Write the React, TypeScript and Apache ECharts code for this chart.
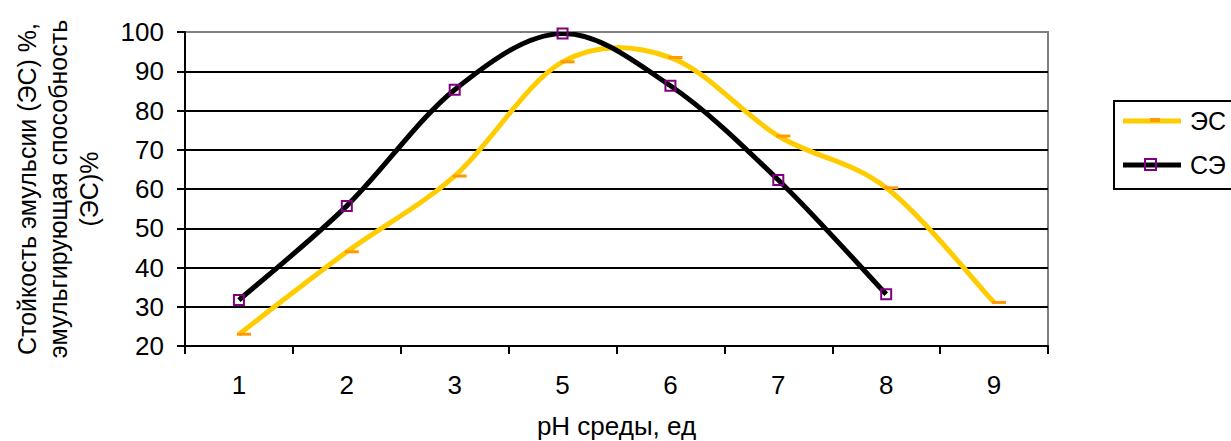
import React, { useEffect, useRef } from "react";
import * as echarts from "echarts";

const categories = ["1", "2", "3", "5", "6", "7", "8", "9"];
const esValues = [23, 44, 63.3, 92.4, 93.5, 73.5, 60.3, 31.1];
const seValues = [31.7, 55.7, 85.3, 99.6, 86.3, 62.3, 33.2, null];
const yTicks = { min: 20, max: 100, interval: 10 };
const seriesNames = ["ЭС", "СЭ"];
const yTitle = "Стойкость эмульсии (ЭС) %,\nэмульгирующая способность\n(ЭС)%";
const xTitle = "pH среды, ед";

const FONT = "'Liberation Sans', Arial, sans-serif";
const FS = 26;

function curveRenderer(values: (number | null)[], color: string, width: number) {
  return (params: any, api: any) => {
    const pts: number[][] = [];
    values.forEach((v, i) => {
      if (v !== null && v !== undefined) pts.push(api.coord([i, v]));
    });
    if (pts.length < 2) return null;
    let d = `M${pts[0][0]},${pts[0][1]}`;
    for (let i = 0; i < pts.length - 1; i++) {
      const p0 = pts[i - 1] || pts[i];
      const p1 = pts[i];
      const p2 = pts[i + 1];
      const p3 = pts[i + 2] || pts[i + 1];
      const c1x = p1[0] + (p2[0] - p0[0]) / 6;
      const c1y = p1[1] + (p2[1] - p0[1]) / 6;
      const c2x = p2[0] - (p3[0] - p1[0]) / 6;
      const c2y = p2[1] - (p3[1] - p1[1]) / 6;
      d += ` C${c1x},${c1y} ${c2x},${c2y} ${p2[0]},${p2[1]}`;
    }
    return {
      type: "path",
      shape: { pathData: d },
      style: { fill: "none", stroke: color, lineWidth: width, lineJoin: "round" },
      silent: true,
    };
  };
}

export default function App() {
  const ref = useRef<HTMLDivElement>(null);
  useEffect(() => {
    if (!ref.current) return;
    const chart = echarts.init(ref.current, null, { renderer: "svg" });
    const gridColors = ["#000", "#000", "#000", "#000", "#000", "#000", "#000", "#000", "#808080"];
    chart.setOption({
      animation: false,
      backgroundColor: "#fff",
      textStyle: { fontFamily: FONT },
      grid: {
        left: 185,
        right: 183,
        top: 32,
        bottom: 95,
        show: true,
        borderColor: "#808080",
        borderWidth: 2,
        backgroundColor: "transparent",
        containLabel: false,
        outerBoundsMode: "none",
      },
      legend: { show: false },
      xAxis: {
        type: "category",
        data: categories,
        boundaryGap: true,
        name: xTitle,
        nameLocation: "middle",
        nameGap: 67,
        nameTextStyle: { fontSize: FS, color: "#000", fontFamily: FONT },
        axisLine: { show: true, lineStyle: { color: "#000", width: 2 } },
        axisTick: { show: true, length: 8, lineStyle: { color: "#000", width: 2 } },
        axisLabel: { fontSize: FS, color: "#000", margin: 26, fontFamily: FONT },
        splitLine: { show: false },
      },
      yAxis: {
        type: "value",
        min: yTicks.min,
        max: yTicks.max,
        interval: yTicks.interval,
        axisLine: { show: true, lineStyle: { color: "#000", width: 2 } },
        axisTick: { show: true, length: 8, lineStyle: { color: "#000", width: 2 } },
        axisLabel: { fontSize: FS, color: "#000", margin: 21, fontFamily: FONT },
        splitLine: { show: true, lineStyle: { color: gridColors, width: 2 } },
      },
      graphic: [
        {
          type: "text",
          x: 58,
          y: 189,
          rotation: Math.PI / 2,
          style: {
            text: yTitle,
            align: "center",
            verticalAlign: "middle",
            fontSize: 25,
            fontFamily: FONT,
            lineHeight: 31,
            fill: "#000",
          },
        },
        {
          type: "group",
          children: [
            {
              type: "rect",
              shape: { x: 1114, y: 101, width: 140, height: 88 },
              style: { fill: "#fff", stroke: "#000", lineWidth: 2 },
            },
            {
              type: "line",
              shape: { x1: 1123, y1: 121, x2: 1181, y2: 121 },
              style: { stroke: "#FFCC00", lineWidth: 5 },
            },
            {
              type: "rect",
              shape: { x: 1150, y: 118, width: 10, height: 4 },
              style: { fill: "#FF9900" },
            },
            {
              type: "text",
              x: 1190,
              y: 121,
              style: {
                text: seriesNames[0],
                fontSize: 25,
                fontFamily: FONT,
                fill: "#000",
                verticalAlign: "middle",
                align: "left",
              },
            },
            {
              type: "line",
              shape: { x1: 1123, y1: 165, x2: 1181, y2: 165 },
              style: { stroke: "#000", lineWidth: 5 },
            },
            {
              type: "rect",
              shape: { x: 1145, y: 159, width: 11, height: 11 },
              style: { fill: "none", stroke: "#800080", lineWidth: 2 },
            },
            {
              type: "text",
              x: 1190,
              y: 165,
              style: {
                text: seriesNames[1],
                fontSize: 25,
                fontFamily: FONT,
                fill: "#000",
                verticalAlign: "middle",
                align: "left",
              },
            },
          ],
        },
      ],
      series: [
        {
          name: seriesNames[0] + " кривая",
          type: "custom",
          data: [[0, 20]],
          renderItem: curveRenderer(esValues, "#FFCC00", 5),
          clip: true,
          z: 2,
        },
        {
          name: seriesNames[1] + " кривая",
          type: "custom",
          data: [[0, 20]],
          renderItem: curveRenderer(seValues, "#000", 5),
          clip: true,
          z: 3,
        },
        {
          name: seriesNames[0],
          type: "line",
          data: esValues,
          symbol: "rect",
          symbolSize: [14, 3],
          symbolOffset: [5, 0],
          showAllSymbol: true,
          lineStyle: { width: 0, opacity: 0 },
          itemStyle: { color: "#FF9900", borderWidth: 0 },
          z: 4,
        },
        {
          name: seriesNames[1],
          type: "line",
          data: seValues,
          symbol: "rect",
          symbolSize: 10,
          showAllSymbol: true,
          lineStyle: { width: 0, opacity: 0 },
          itemStyle: { color: "rgba(0,0,0,0)", borderColor: "#800080", borderWidth: 2 },
          z: 5,
        },
      ],
    });
    return () => chart.dispose();
  }, []);
  return (
    <div
      ref={ref}
      style={{ position: "fixed", left: 0, top: 0, width: 1231, height: 441, background: "#fff" }}
    />
  );
}
